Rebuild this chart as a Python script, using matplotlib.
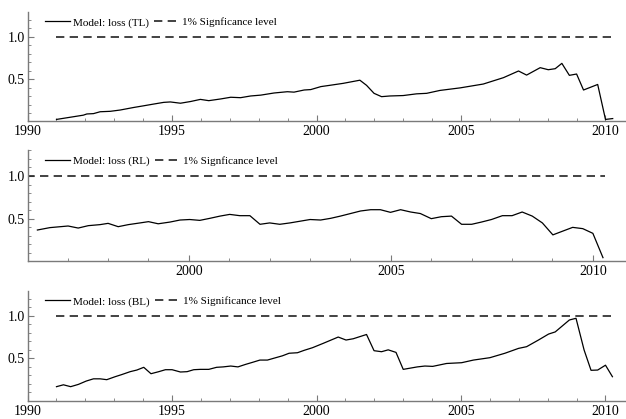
import matplotlib
matplotlib.use("Agg")
import matplotlib.pyplot as plt
from matplotlib.ticker import MultipleLocator, FixedLocator

plt.rcParams['font.family'] = ['Liberation Serif', 'DejaVu Serif']

# --- data ---
tl_year = [1991.0, 1991.93, 1992.05, 1992.28, 1992.51, 1992.86, 1993.2, 1993.67, 1994.02,
           1994.36, 1994.71, 1994.94, 1995.29, 1995.64, 1995.98, 1996.27, 1996.68, 1997.03,
           1997.37, 1997.72, 1998.07, 1998.53, 1998.99, 1999.22, 1999.57, 1999.8, 2000.15,
           2000.46, 2000.92, 2001.5, 2001.73, 2001.99, 2002.25, 2002.54, 2003.0, 2003.46,
           2003.81, 2004.27, 2004.97, 2005.77, 2006.47, 2006.99, 2007.27, 2007.74, 2008.02,
           2008.26, 2008.49, 2008.75, 2009.0, 2009.24, 2009.73, 2010.0, 2010.25]
tl_loss = [0.03, 0.08, 0.094, 0.098, 0.12, 0.125, 0.14, 0.17, 0.19,
           0.21, 0.23, 0.235, 0.22, 0.24, 0.265, 0.25, 0.27, 0.29,
           0.285, 0.305, 0.315, 0.34, 0.355, 0.35, 0.375, 0.38, 0.415,
           0.43, 0.453, 0.49, 0.43, 0.336, 0.297, 0.305, 0.31, 0.33,
           0.336, 0.37, 0.40, 0.445, 0.52, 0.598, 0.55, 0.637, 0.613,
           0.625, 0.6875, 0.547, 0.5625, 0.375, 0.44, 0.03, 0.04]

rl_year = [1996.25, 1996.56, 1997.01, 1997.26, 1997.51, 1997.8, 1998.0, 1998.25, 1998.5,
           1998.79, 1999.0, 1999.24, 1999.53, 1999.78, 2000.02, 2000.27, 2000.52, 2000.77,
           2001.01, 2001.26, 2001.51, 2001.76, 2002.0, 2002.25, 2002.5, 2002.75, 2003.0,
           2003.26, 2003.51, 2003.75, 2004.0, 2004.25, 2004.5, 2004.74, 2004.99, 2005.24,
           2005.49, 2005.73, 2006.0, 2006.25, 2006.5, 2006.75, 2007.0, 2007.24, 2007.49,
           2007.76, 2008.0, 2008.25, 2008.5, 2008.75, 2009.01, 2009.26, 2009.5, 2009.75,
           2010.0, 2010.25]
rl_loss = [0.367, 0.395, 0.414, 0.39, 0.418, 0.43, 0.445, 0.406, 0.43,
           0.45, 0.465, 0.44, 0.46, 0.484, 0.49, 0.48, 0.504, 0.53,
           0.55, 0.535, 0.535, 0.434, 0.45, 0.434, 0.45, 0.47, 0.49,
           0.484, 0.504, 0.53, 0.56, 0.59, 0.605, 0.605, 0.574, 0.605,
           0.578, 0.56, 0.50, 0.523, 0.53, 0.434, 0.434, 0.46, 0.49,
           0.535, 0.535, 0.578, 0.53, 0.45, 0.31, 0.355, 0.398, 0.383,
           0.328, 0.043]

bl_year = [1991.0, 1991.24, 1991.49, 1991.76, 1992.03, 1992.28, 1992.51, 1992.74, 1993.03,
           1993.26, 1993.55, 1993.78, 1994.02, 1994.27, 1994.54, 1994.77, 1995.0, 1995.29,
           1995.52, 1995.75, 1995.98, 1996.27, 1996.54, 1996.77, 1997.03, 1997.28, 1997.55,
           1997.78, 1998.04, 1998.3, 1998.59, 1998.82, 1999.05, 1999.34, 1999.57, 1999.86,
           2000.23, 2000.75, 2001.02, 2001.27, 2001.73, 2001.99, 2002.25, 2002.48, 2002.75,
           2003.0, 2003.49, 2003.75, 2004.02, 2004.5, 2005.02, 2005.43, 2006.0, 2006.52,
           2006.99, 2007.27, 2007.68, 2008.03, 2008.26, 2008.75, 2008.98, 2009.26, 2009.5,
           2009.73, 2010.0, 2010.24]
bl_loss = [0.168, 0.19, 0.168, 0.195, 0.234, 0.26, 0.26, 0.25, 0.285,
           0.31, 0.344, 0.363, 0.395, 0.32, 0.344, 0.367, 0.367, 0.34,
           0.344, 0.367, 0.371, 0.371, 0.395, 0.40, 0.41, 0.40, 0.43,
           0.453, 0.48, 0.48, 0.508, 0.53, 0.56, 0.566, 0.594, 0.625,
           0.676, 0.75, 0.715, 0.73, 0.78, 0.59, 0.578, 0.60, 0.57,
           0.371, 0.40, 0.41, 0.406, 0.44, 0.449, 0.48, 0.508, 0.56,
           0.617, 0.637, 0.715, 0.785, 0.81, 0.95, 0.97, 0.598, 0.36,
           0.363, 0.42, 0.285]

sig_year = [1991.0, 2010.3]
sig_level = [1.0, 1.0]

panels = [
    (tl_year, tl_loss, "Model: loss (TL)", "1% Signficance level"),
    (rl_year, rl_loss, "Model: loss (RL)", "1% Signficance level"),
    (bl_year, bl_loss, "Model: loss (BL)", "1% Significance level"),
]

W, H = 626, 419
fig = plt.figure(figsize=(W / 100, H / 100), dpi=100)

# pixel boxes: (left, top, bottom), xlim, ylim
boxes = [
    (27.6, 12.0, 120.7, (1990.0, 2010.71), (0.015, 1.29)),
    (27.7, 150.4, 260.9, (1996.01, 2010.82), (0.005, 1.30)),
    (27.6, 291.0, 401.0, (1990.0, 2010.71), (0.0, 1.29)),
]

axis_grey = '#7a7a7a'

for (yr, loss, lab, siglab), (l, t, b, xl, yl) in zip(panels, boxes):
    ax = fig.add_axes([l / W, 1 - b / H, 1 - l / W, (b - t) / H])
    ax.plot(yr, loss, color='black', lw=0.9, label=lab)
    ax.plot(sig_year, sig_level, color='#222222', lw=1.2, ls=(0, (5, 3.2)), label=siglab)
    ax.set_xlim(*xl)
    ax.set_ylim(*yl)

    for s in ['top', 'right']:
        ax.spines[s].set_visible(False)
    for s in ['left', 'bottom']:
        ax.spines[s].set_color(axis_grey)
        ax.spines[s].set_linewidth(1.0)

    ax.xaxis.set_major_locator(MultipleLocator(5))
    ax.xaxis.set_minor_locator(MultipleLocator(1))
    ax.yaxis.set_major_locator(FixedLocator([0.5, 1.0]))
    ax.yaxis.set_minor_locator(MultipleLocator(0.1))
    ax.yaxis.set_major_formatter(plt.FuncFormatter(lambda v, p: f"{v:.1f}"))
    ax.xaxis.set_major_formatter(plt.FuncFormatter(lambda v, p: f"{v:.0f}"))

    ax.tick_params(which='major', direction='in', length=4, width=0.8,
                   color=axis_grey, labelsize=10, pad=2)
    ax.tick_params(which='minor', direction='in', length=2.2, width=0.6, color=axis_grey)
    ax.tick_params(axis='x', pad=3)

    ax.legend(loc='upper left', bbox_to_anchor=(0.02, 1.0), frameon=False, ncol=2,
              fontsize=8, handlelength=2.2, handletextpad=0.3, columnspacing=0.5,
              borderaxespad=0.2, borderpad=0.3)

fig.savefig("out.png", dpi=100)
